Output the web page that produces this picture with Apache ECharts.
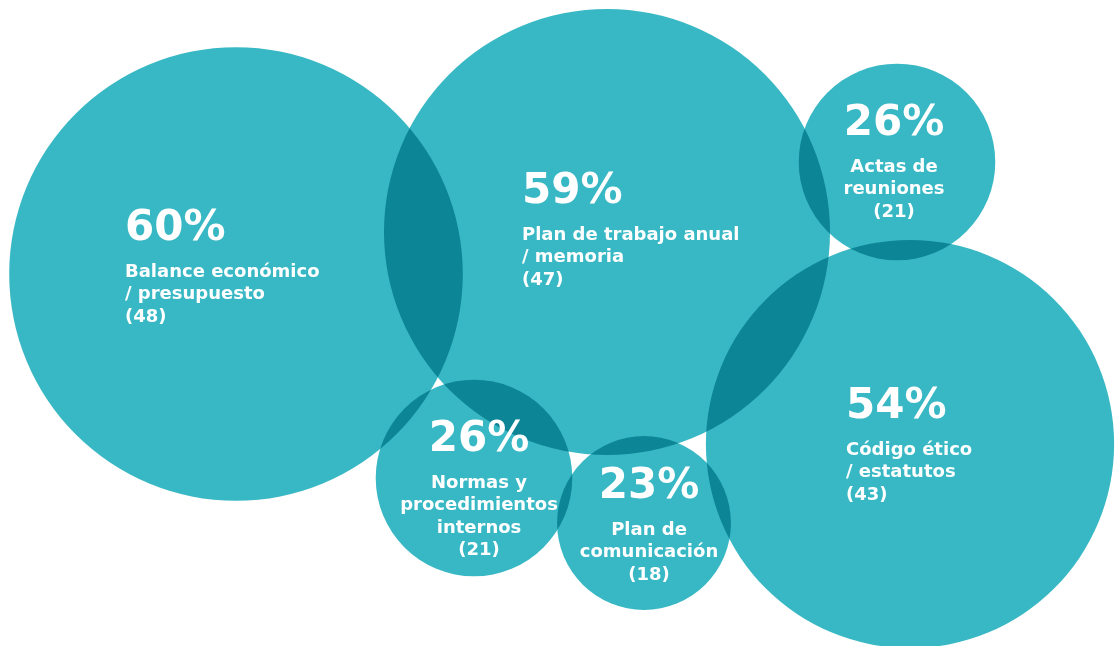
<!DOCTYPE html>
<html>
<head>
<meta charset="utf-8">
<script src="https://cdn.jsdelivr.net/npm/echarts@6/dist/echarts.min.js"></script>
<style>
html,body{margin:0;padding:0;background:#fff;}
#chart{width:1115px;height:646px;}
</style>
</head>
<body>
<div id="chart"></div>
<script>
// Data
var categories = [
  'Balance económico\n/ presupuesto',
  'Plan de trabajo anual\n/ memoria',
  'Actas de\nreuniones',
  'Código ético\n/ estatutos',
  'Normas y\nprocedimientos\ninternos',
  'Plan de\ncomunicación'
];
var percents = [60, 59, 26, 54, 26, 23];
var counts = [48, 47, 21, 43, 21, 18];
// bubble centres (chart coordinates)
var bubbleX = [236, 607, 897, 910, 474, 644];
var bubbleY = [274, 232, 162, 444, 478, 523];

// Layout (label placement), kept separate from the data
var labelAlign = ['left', 'left', 'center', 'left', 'center', 'center'];
var labelOffset = [[-111, -77], [-85, -72], [-3, -70], [-64, -69], [5, -70], [5, -68]];
var radiusPerPercent = 3.78;

var seriesData = percents.map(function (p, i) {
  return [bubbleX[i], bubbleY[i], p, counts[i], i];
});

var labelData = seriesData.map(function (d, i) {
  return {
    value: d,
    label: { align: labelAlign[i], offset: labelOffset[i] }
  };
});

var chart = echarts.init(document.getElementById('chart'), null, { renderer: 'canvas' });
var font = '"DejaVu Sans", "Noto Sans", sans-serif';
function rs(size, lh, align) {
  return { fontSize: size, fontWeight: 'bold', lineHeight: lh, color: '#ffffff',
           fontFamily: font, align: align, textBorderWidth: 0, textShadowBlur: 0, opacity: 1 };
}
chart.setOption({
  backgroundColor: '#ffffff',
  animation: false,
  grid: { left: 0, right: 0, top: 0, bottom: 0 },
  xAxis: { type: 'value', min: 0, max: 1115, show: false },
  yAxis: { type: 'value', min: 0, max: 646, inverse: true, show: false },
  series: [
    {
      type: 'scatter',
      data: seriesData,
      symbol: 'circle',
      symbolSize: function (v) { return v[2] * radiusPerPercent * 2; },
      itemStyle: { color: '#37B8C4', opacity: 1 },
      blendMode: 'multiply',
      silent: true,
      emphasis: { disabled: true },
      label: { show: false }
    },
    {
      type: 'scatter',
      data: labelData,
      symbol: 'circle',
      symbolSize: function (v) { return v[2] * radiusPerPercent * 2; },
      itemStyle: { color: 'rgba(0,0,0,0)', opacity: 1 },
      silent: true,
      z: 5,
      emphasis: { disabled: true },
      label: {
        show: true,
        position: 'inside',
        verticalAlign: 'top',
        color: '#ffffff',
        opacity: 1,
        textBorderWidth: 0,
        fontFamily: font,
        formatter: function (params) {
          var i = params.value[4];
          var c = labelAlign[i] === 'left' ? 'l' : 'c';
          var lines = categories[i].split('\n');
          var out = '{p' + c + '|' + percents[i] + '%}';
          lines.forEach(function (ln) { out += '\n{n' + c + '|' + ln + '}'; });
          out += '\n{n' + c + '|(' + counts[i] + ')}';
          return out;
        },
        rich: {
          pl: rs(42, 64, 'left'),
          nl: rs(18, 22.5, 'left'),
          pc: rs(42, 64, 'center'),
          nc: rs(18, 22.5, 'center')
        }
      }
    }
  ]
});
</script>
</body>
</html>
